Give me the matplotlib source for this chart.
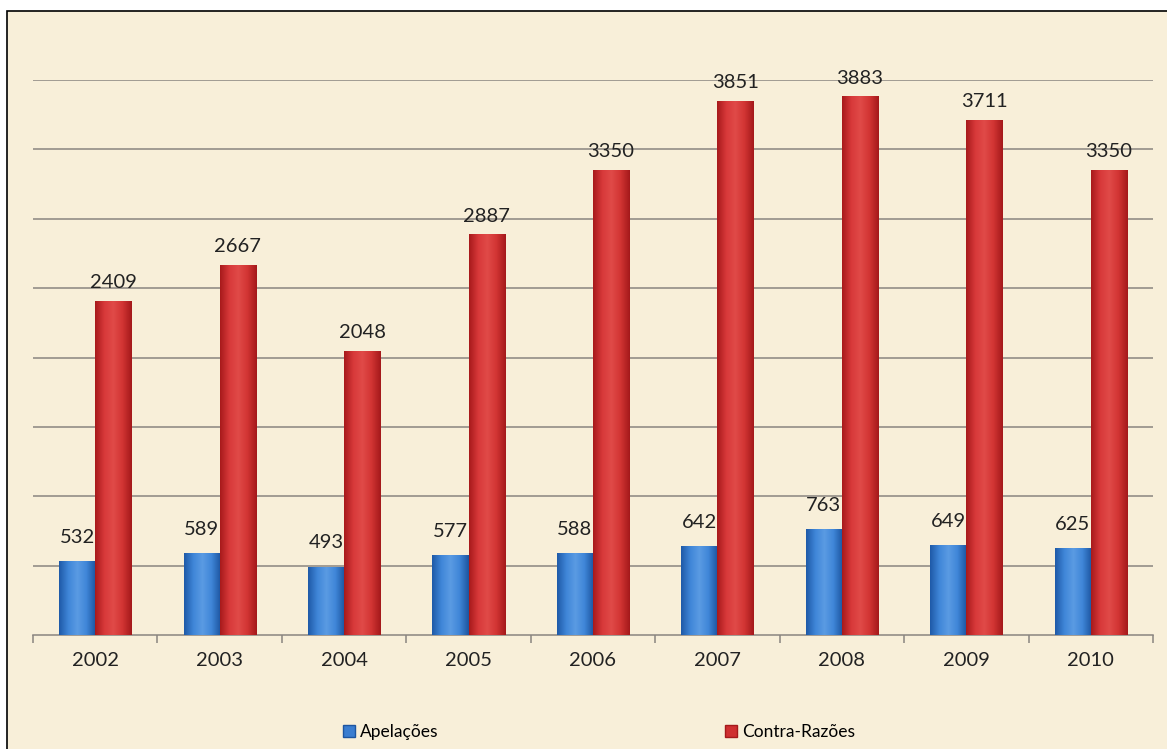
import numpy as np
import matplotlib
matplotlib.use("Agg")
import matplotlib.pyplot as plt
from matplotlib.patches import Rectangle, Patch
from matplotlib.colors import LinearSegmentedColormap

# Data
years = ["2002", "2003", "2004", "2005", "2006", "2007", "2008", "2009", "2010"]
apelacoes = [532, 589, 493, 577, 588, 642, 763, 649, 625]
contra_razoes = [2409, 2667, 2048, 2887, 3350, 3851, 3883, 3711, 3350]
series_names = ["Apelações", "Contra-Razões"]

plt.rcParams['font.family'] = ['Lato', 'DejaVu Sans']

W, H = 1167, 749
fig = plt.figure(figsize=(W / 100, H / 100), dpi=100)
fig.patch.set_facecolor("white")

# parchment frame (runs off the right and bottom edges like the scan)
frame = Rectangle((7 / W, -0.1), 1.2, 1.1 - 11 / H, transform=fig.transFigure,
                  facecolor="#f8efd9", edgecolor="black", linewidth=1.2, zorder=-10)
fig.patches.append(frame)

ax = fig.add_axes([33 / W, 1 - 635 / H, (1153 - 33) / W, (635 - 80) / H])
ax.set_facecolor("none")
ax.set_zorder(2)

x = np.arange(len(years))
bw = 0.29

blue_grad = ["#1f5aa8", "#3f86d8", "#5b9be3", "#3f86d8", "#1d55a0"]
red_grad = ["#a81a1c", "#d8393a", "#e04a48", "#d23433", "#a4191b"]


def shaded_bars(xs, vals, cols):
    bars = ax.bar(xs, vals, bw, color=cols[2], edgecolor="none", zorder=3)
    cmap = LinearSegmentedColormap.from_list("g", cols)
    grad = np.linspace(0, 1, 64).reshape(1, -1)
    for b in bars:
        x0, w, h = b.get_x(), b.get_width(), b.get_height()
        im = ax.imshow(grad, cmap=cmap, aspect="auto",
                       extent=(x0, x0 + w, 0, h), zorder=3)
        im.set_clip_path(b)
    return bars


shaded_bars(x - bw / 2, apelacoes, blue_grad)
shaded_bars(x + bw / 2, contra_razoes, red_grad)

for xi, v in zip(x, apelacoes):
    ax.annotate(str(v), (xi - bw / 2, v), xytext=(0, 11), textcoords="offset points",
                ha="center", va="bottom", fontsize=14.5, color="#222222", zorder=5)
for xi, v in zip(x, contra_razoes):
    ax.annotate(str(v), (xi + bw / 2, v), xytext=(0, 7), textcoords="offset points",
                ha="center", va="bottom", fontsize=14.5, color="#222222", zorder=5,
                annotation_clip=False)

ax.set_xlim(-0.5, len(years) - 0.5)
ax.set_ylim(0, 4000)
ax.set_yticks(np.arange(500, 4001, 500))
ax.yaxis.grid(True, color="#8a8580", linewidth=1.1)
ax.set_axisbelow(True)
ax.tick_params(axis="y", left=False, labelleft=False)

ax.set_xticks(x)
ax.set_xticklabels(years, fontsize=14.5, color="#222222")
ax.tick_params(axis="x", length=0, pad=12)
ax.set_xticks(np.arange(-0.5, len(years), 1), minor=True)
ax.tick_params(axis="x", which="minor", length=6, color="#8a8580", width=1.1)

for s in ["top", "right", "left"]:
    ax.spines[s].set_visible(False)
ax.spines["bottom"].set_color("#8a8580")
ax.spines["bottom"].set_linewidth(1.1)

handles = [Patch(facecolor="#3a7dd0", edgecolor="#1d55a0"),
           Patch(facecolor="#cf2f30", edgecolor="#a4191b")]
fig.legend(handles, series_names, loc="center", bbox_to_anchor=(599 / W, 1 - 732 / H),
           ncol=2, frameon=False, fontsize=12.5, handlelength=0.7, handleheight=0.7,
           handletextpad=0.3, columnspacing=16.5)

fig.savefig("out.png", dpi=100)
